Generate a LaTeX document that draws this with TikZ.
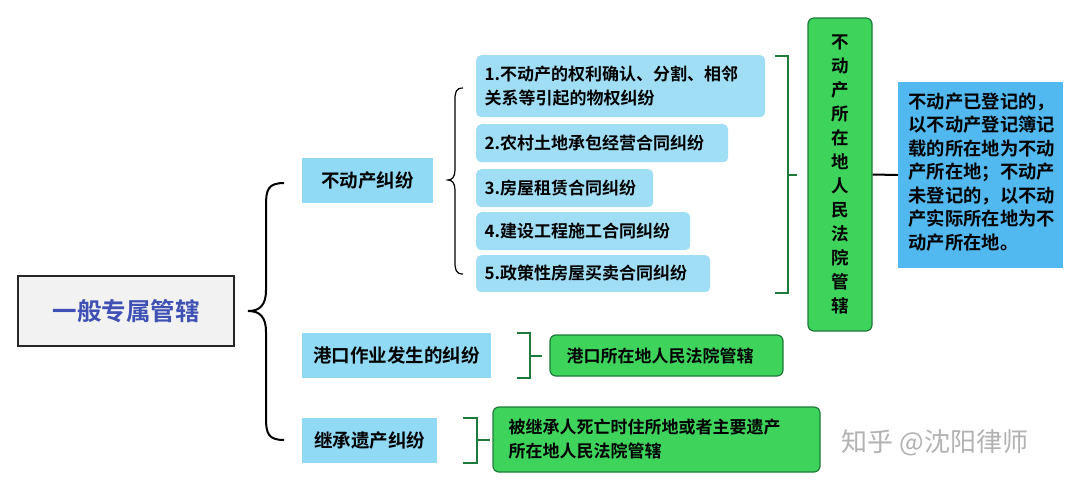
\documentclass[tikz,border=0pt]{standalone}
\usepackage{fontspec}
\newfontfamily\cjk{Noto Sans CJK SC}[UprightFont=* Bold]
\newfontfamily\cjkr{Noto Sans CJK SC}
\definecolor{lb}{HTML}{90DAF5}
\definecolor{lb2}{HTML}{A0DEF6}
\definecolor{gr}{HTML}{3ED45C}
\definecolor{grd}{HTML}{1E7A3A}
\definecolor{bl}{HTML}{52B9F0}
\definecolor{root}{HTML}{3F51B5}
\begin{document}
\begin{tikzpicture}[x=1pt,y=-1pt,
  txt/.style={font=\cjk\fontsize{17}{23}\selectfont,text=black},
  cat/.style={txt,fill=lb,anchor=north west,inner sep=0pt,align=left},
  item/.style={txt,fill=lb2,rounded corners=5pt,anchor=north west,inner sep=0pt},
  grbox/.style={txt,fill=gr,draw=grd,line width=1.2pt,rounded corners=6pt,inner sep=0pt},
  brk/.style={draw=grd,line width=1.2pt},
  brace/.style={draw=black,line width=1.2pt}]
\useasboundingbox (0,0) rectangle (1080,491);
\fill[white] (0,0) rectangle (1080,491);
% root
\node[draw=black!85,line width=2pt,fill=black!5,minimum width=216pt,minimum height=70pt,inner sep=0pt,
  font=\cjk\fontsize{24.5}{28}\selectfont,text=root] (root) at (126,311) {一般专属管辖};
% big brace
\draw[brace,line width=2pt] (284,183) .. controls (268,183) and (266,190) .. (266,205) -- (266,290)
  .. controls (266,305) and (260,311) .. (248,311) coordinate (tip)
  .. controls (260,311) and (266,317) .. (266,332) -- (266,418) .. controls (266,433) and (268,440) .. (284,440);
% categories
\node[cat,minimum width=131pt,minimum height=45pt] (c1) at (302,158) {};
\node[txt,font=\cjk\fontsize{18.5}{23}\selectfont] at (c1) {不动产纠纷};
\node[cat,minimum width=189pt,minimum height=45pt] (c2) at (302,333) {};
\node[txt,font=\cjk\fontsize{18.5}{23}\selectfont] at (c2) {港口作业发生的纠纷};
\node[cat,minimum width=135pt,minimum height=45pt] (c3) at (302,418) {};
\node[txt,font=\cjk\fontsize{18.5}{23}\selectfont] at (c3) {继承遗产纠纷};
% brace 2
\draw[brace] (463,88) .. controls (456,88) and (455,92) .. (455,100) -- (455,170)
  .. controls (455,177) and (452,180) .. (448,180)
  .. controls (452,180) and (455,183) .. (455,190) -- (455,262) .. controls (455,270) and (456,274) .. (463,274);
% items
\node[item,minimum width=289pt,minimum height=62pt] (i1) at (476,55) {};
\node[txt,anchor=west,align=left,font=\cjk\fontsize{17}{24}\selectfont] at (481,86) {1.不动产的权利确认、分割、相邻\\关系等引起的物权纠纷};
\node[item,minimum width=252pt,minimum height=38pt] (i2) at (476,124) {};
\node[txt,anchor=west] at (481,143) {2.农村土地承包经营合同纠纷};
\node[item,minimum width=177pt,minimum height=38pt] (i3) at (476,169) {};
\node[txt,anchor=west] at (481,188) {3.房屋租赁合同纠纷};
\node[item,minimum width=214pt,minimum height=38pt] (i4) at (476,212) {};
\node[txt,anchor=west] at (481,231) {4.建设工程施工合同纠纷};
\node[item,minimum width=234pt,minimum height=37pt] (i5) at (476,255) {};
\node[txt,anchor=west] at (481,273) {5.政策性房屋买卖合同纠纷};
% green bracket
\draw[brk] (775,56) -- (788,56) -- (788,293) -- (775,293);
\draw[brk] (788,175) -- (797,175);
% vertical green box
\node[grbox,minimum width=64pt,minimum height=313pt,align=center,font=\cjk\fontsize{17.5}{24}\selectfont] (v) at (840,174.5)
  {不\\动\\产\\所\\在\\地\\人\\民\\法\\院\\管\\辖};
% blue box
\node[txt,fill=bl,minimum width=165pt,minimum height=186pt,inner sep=0pt] (b) at (980.5,175) {};
\node[txt,anchor=north west,align=left,font=\cjk\fontsize{18.3}{23.5}\selectfont] at (905,89)
  {不动产已登记的，\\以不动产登记簿记\\载的所在地为不动\\产所在地；不动产\\未登记的，以不动\\产实际所在地为不\\动产所在地。};
\draw[line width=2pt] (v.east) -- (b.west);
% port
\draw[brk] (517,333) -- (530,333) -- (530,378) -- (517,378);
\draw[brk] (530,356) -- (542,356);
\node[grbox,minimum width=233pt,minimum height=41pt] (g2) at (666.5,355.5) {};
\node[txt,anchor=west] at (563,355.5) {港口所在地人民法院管辖};
% inheritance
\draw[brk] (463,418) -- (477,418) -- (477,463) -- (463,463);
\draw[brk] (477,440) -- (490,440);
\node[grbox,minimum width=327pt,minimum height=65pt] (g3) at (656.5,439.5) {};
\node[txt,anchor=west,align=left,font=\cjk\fontsize{17}{24}\selectfont] at (505,439.5) {被继承人死亡时住所地或者主要遗产\\所在地人民法院管辖};
% watermark
\node[font=\cjkr\fontsize{26}{30}\selectfont,text=black!30] at (935,443) {知乎 @沈阳律师};
\end{tikzpicture}
\end{document}
